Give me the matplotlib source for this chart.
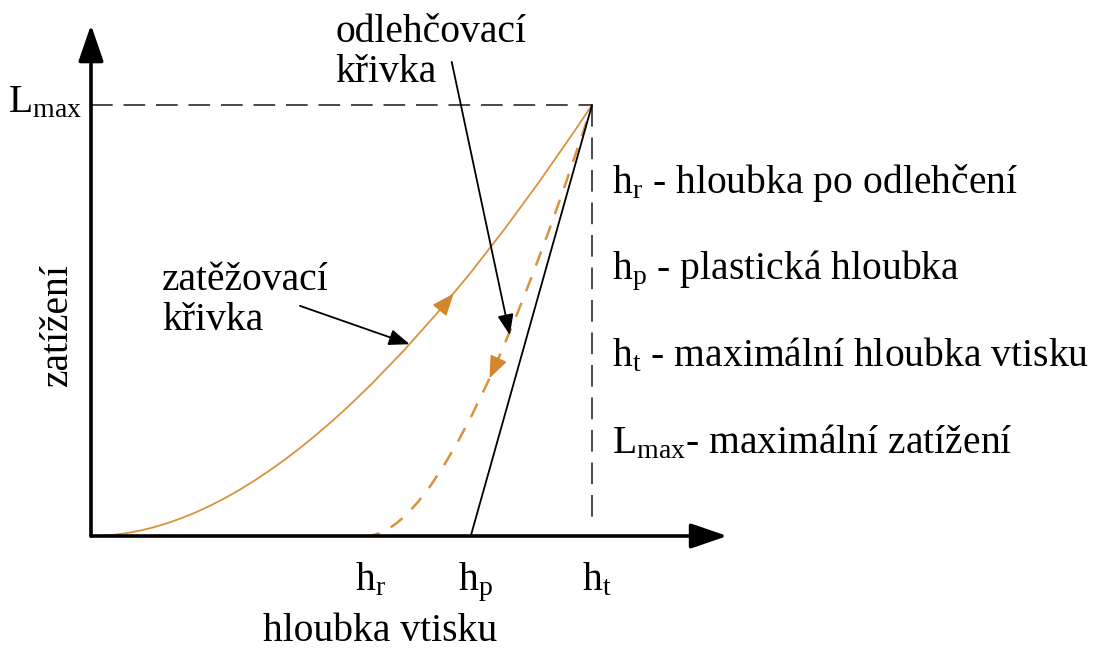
import numpy as np
import matplotlib
matplotlib.use("Agg")
import matplotlib.pyplot as plt
from matplotlib.path import Path
from matplotlib.patches import PathPatch

plt.rcParams["font.family"] = ["Liberation Serif", "DejaVu Serif"]
plt.rcParams["mathtext.fontset"] = "custom"
plt.rcParams["mathtext.rm"] = "Liberation Serif"
plt.rcParams["mathtext.it"] = "Liberation Serif:italic"

# characteristic depths (relative to h_t) and maximum load
h_r = 0.547
h_p = 0.758
h_t = 1.0
L_max = 1.0

# control points of the two curves (quadratic Bezier)
loading_ctrl_x = [0.0, 0.43, h_t]
loading_ctrl_y = [0.0, 0.0, L_max]
unloading_ctrl_x = [h_r, 0.72, h_t]
unloading_ctrl_y = [0.0, 0.0, L_max]

tick_names = [r"h$_{\mathrm{r}}$", r"h$_{\mathrm{p}}$", r"h$_{\mathrm{t}}$"]
legend_lines = [
    r"h$_{\mathrm{r}}$ - hloubka po odlehčení",
    r"h$_{\mathrm{p}}$ - plastická hloubka",
    r"h$_{\mathrm{t}}$ - maximální hloubka vtisku",
    r"L$_{\mathrm{max}}$- maximální zatížení",
]

orange = "#D9923E"
dark = "#3a3a3a"
fs = 28.5


def bezier(cx, cy, t):
    x = (1 - t) ** 2 * cx[0] + 2 * t * (1 - t) * cx[1] + t ** 2 * cx[2]
    y = (1 - t) ** 2 * cy[0] + 2 * t * (1 - t) * cy[1] + t ** 2 * cy[2]
    return x, y


fig = plt.figure(figsize=(11.09, 6.53), dpi=100)
ax = fig.add_axes([0, 0, 1, 1])
ax.set_xlim(-91 / 501, 1018 / 501)
ax.set_ylim(-117 / 431, 536 / 431)
ax.axis("off")

axis_arrow = dict(arrowstyle="-|>,head_length=1.6,head_width=0.55",
                  mutation_scale=14, lw=2.6, color="black",
                  shrinkA=0, shrinkB=0)
ax.annotate("", xy=(1.27, 0), xytext=(0, 0), arrowprops=axis_arrow)
ax.annotate("", xy=(0, 1.186), xytext=(0, 0), arrowprops=axis_arrow)

# guide lines at L_max and h_t
ax.plot([0, h_t], [L_max, L_max], color=dark, lw=1.3, linestyle=(0, (12, 6)))
ax.plot([h_t, h_t], [L_max, 0.025], color=dark, lw=1.3, linestyle=(0, (12, 6)))

# loading curve
codes = [Path.MOVETO, Path.CURVE3, Path.CURVE3]
ax.add_patch(PathPatch(Path(list(zip(loading_ctrl_x, loading_ctrl_y)), codes),
                       fill=False, edgecolor=orange, lw=1.3))
# unloading curve (dashed)
ax.add_patch(PathPatch(Path(list(zip(unloading_ctrl_x, unloading_ctrl_y)), codes),
                       fill=False, edgecolor=orange, lw=1.8,
                       linestyle=(0, (6, 5))))
# unloading tangent from h_p
ax.plot([h_p, h_t], [0, L_max], color="black", lw=1.3)

# direction arrows on the curves
head = dict(arrowstyle="-|>,head_length=1.0,head_width=0.4",
            mutation_scale=14, lw=1, color="#D3862A", shrinkA=0, shrinkB=0)
ax.annotate("", xy=bezier(loading_ctrl_x, loading_ctrl_y, 0.75),
            xytext=bezier(loading_ctrl_x, loading_ctrl_y, 0.74), arrowprops=head)
ax.annotate("", xy=bezier(unloading_ctrl_x, unloading_ctrl_y, 0.605),
            xytext=bezier(unloading_ctrl_x, unloading_ctrl_y, 0.615),
            arrowprops=head)

# pointer labels
pointer = dict(arrowstyle="-|>,head_length=0.9,head_width=0.35",
               mutation_scale=14, lw=1.3, color="black", shrinkA=0, shrinkB=0)
ax.text(0.142, 0.478, "zatěžovací\nkřivka", fontsize=fs, va="baseline",
        linespacing=1.12)
ax.annotate("", xy=(0.636, 0.445), xytext=(0.417, 0.534), arrowprops=pointer)
ax.text(0.488, 1.053, "odlehčovací\nkřivka", fontsize=fs, va="baseline",
        linespacing=1.12)
ax.annotate("", xy=(0.836, 0.466), xytext=(0.72, 1.10), arrowprops=pointer)

# tick labels
for pos, name in zip([h_r, h_p, h_t], tick_names):
    ax.text(pos + 0.01, -0.125, name, fontsize=fs, ha="center", va="baseline")
ax.text(-0.018, 0.984, r"L$_{\mathrm{max}}$", fontsize=fs, ha="right",
        va="baseline")

# axis titles
ax.text(0.578, -0.243, "hloubka vtisku", fontsize=fs, ha="center",
        va="baseline")
ax.text(-0.066, 0.49, "zatížení", fontsize=fs, rotation=90, ha="center",
        va="center")

# legend block
for i, line in enumerate(legend_lines):
    ax.text(1.04, 0.796 - i * 0.201, line, fontsize=fs, va="baseline")

fig.savefig("out.png", dpi=100)
